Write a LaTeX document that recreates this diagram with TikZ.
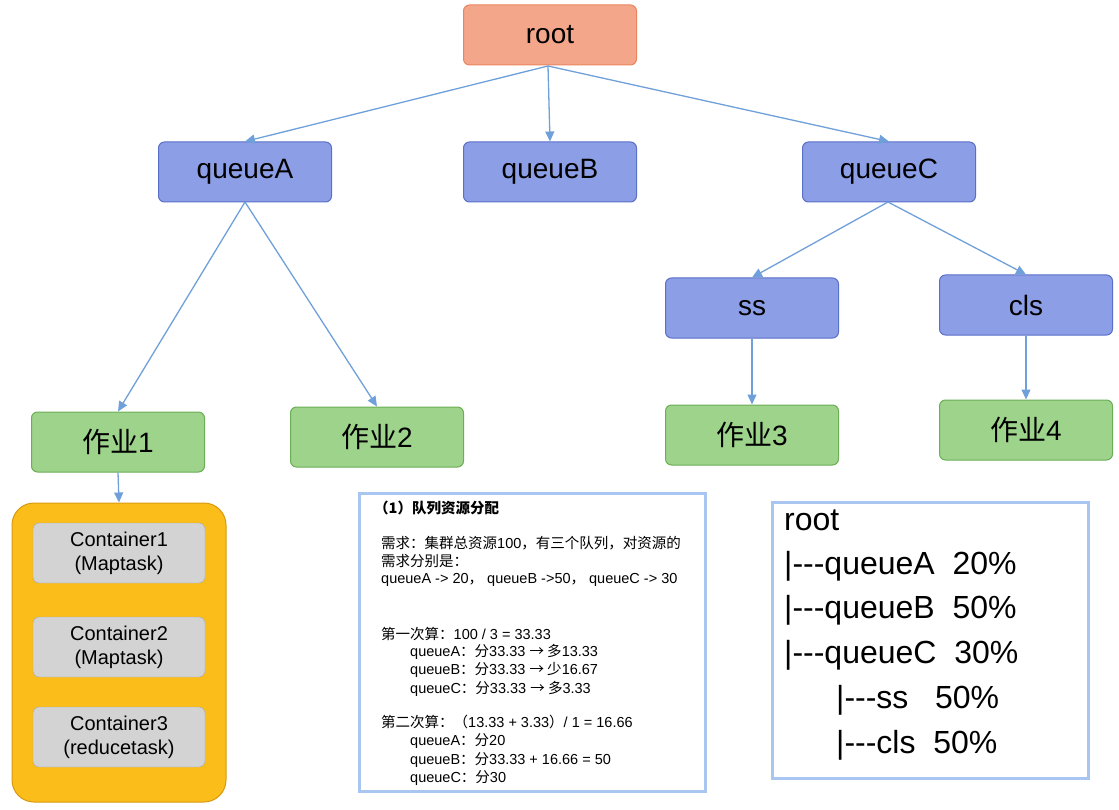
\documentclass[tikz,border=0pt]{standalone}
\usepackage{fontspec}
\setmainfont{Liberation Sans}
\newfontfamily\cjk{Noto Sans CJK SC}
\newcommand{\zh}[1]{{\cjk #1}}
\newcommand{\dsh}{-{}-{}-}
\usetikzlibrary{arrows.meta}
\definecolor{bluef}{HTML}{8C9EE6}
\definecolor{blued}{HTML}{5A6FC8}
\definecolor{greenf}{HTML}{9DD38A}
\definecolor{greend}{HTML}{6BAE55}
\definecolor{rootf}{HTML}{F4A68A}
\definecolor{rootd}{HTML}{E8855E}
\definecolor{edge}{HTML}{6FA0DA}
\definecolor{orangef}{HTML}{FBBD1A}
\definecolor{oranged}{HTML}{D89A10}
\definecolor{grayf}{HTML}{D3D3D3}
\definecolor{grayd}{HTML}{A8A8A8}
\definecolor{glow}{HTML}{A9C6F0}
\begin{document}
\begin{tikzpicture}[x=1pt,y=-1pt,
  box/.style={rounded corners=6pt,minimum width=173pt,minimum height=60pt,inner sep=0pt,font=\fontsize{28}{30}\selectfont},
  blue/.style={box,fill=bluef,draw=blued,line width=1pt},
  green/.style={box,fill=greenf,draw=greend,line width=1pt},
  cont/.style={rounded corners=6pt,minimum width=172pt,minimum height=60pt,inner sep=0pt,fill=grayf,draw=grayd,align=center,font=\fontsize{20}{24}\selectfont},
  edg/.style={draw=edge,line width=1.3pt,-{Triangle[length=10pt,width=9pt]}},
  txt/.style={anchor=west,inner sep=0pt}]
\useasboundingbox (0,0) rectangle (1119,810);
\node[box,fill=rootf,draw=rootd,line width=1pt] (root) at (550,35) {root};
\node[blue] (qa) at (245,172) {queueA};
\node[blue] (qb) at (550,172) {queueB};
\node[blue] (qc) at (889,172) {queueC};
\node[blue] (ss) at (752,308) {ss};
\node[blue] (cls) at (1026,305) {cls};
\node[green] (j1) at (118,442) {\zh{作业}1};
\node[green] (j2) at (377,437) {\zh{作业}2};
\node[green] (j3) at (752,435) {\zh{作业}3};
\node[green] (j4) at (1026,430) {\zh{作业}4};
\node[rounded corners=22pt,fill=orangef,draw=oranged,line width=1pt,minimum width=214pt,minimum height=299pt,inner sep=0pt] (orng) at (119,652.5) {};
\node[cont] (c1) at (119,553) {Container1\\(Maptask)};
\node[cont] (c2) at (119,647) {Container2\\(Maptask)};
\node[cont] (c3) at (119,737) {Container3\\(reducetask)};
\coordinate (rb) at (548,66);
\draw[edg] (rb) -- (qa.north);
\draw[edg] (rb) -- (qb.north);
\draw[edg] (rb) -- (qc.north);
\coordinate (qab) at (245,202);
\draw[edg] (qab) -- (j1.north);
\draw[edg] (qab) -- (j2.north);
\coordinate (qcb) at (888,202);
\draw[edg] (qcb) -- (ss.north);
\draw[edg] (qcb) -- (cls.north);
\draw[edg] (ss.south) -- (j3.north);
\draw[edg] (cls.south) -- (j4.north);
\draw[edg] (j1.south) -- (orng.north);
% box 1
\node[draw=glow,line width=3pt,fill=white,minimum width=346pt,minimum height=298pt,inner sep=0pt] (b1) at (532,642) {};
\begin{scope}[every node/.style={txt,font=\fontsize{14.5}{16}\selectfont}]
\node (t0) at (374,508) {\bfseries\zh{（1）队列资源分配}};
\node (t1) at (381,543) {\zh{需求：集群总资源}100\zh{，有三个队列，对资源的}};
\node (t2) at (381,561) {\zh{需求分别是：}};
\node (t3) at (381,580) {queueA -> 20\zh{，} queueB ->50\zh{，} queueC -> 30};
\node (t4) at (381,634) {\zh{第一次算：}100 / 3 = 33.33};
\node (t5) at (410,652) {queueA\zh{：分}33.33 \zh{→ 多}13.33};
\node (t6) at (410,670) {queueB\zh{：分}33.33 \zh{→ 少}16.67};
\node (t7) at (410,689) {queueC\zh{：分}33.33 \zh{→ 多}3.33};
\node (t8) at (381,722) {\zh{第二次算：（}13.33 + 3.33\zh{）}/ 1 = 16.66};
\node (t9) at (410,741) {queueA\zh{：分}20};
\node (t10) at (410,760) {queueB\zh{：分}33.33 + 16.66 = 50};
\node (t11) at (410,778) {queueC\zh{：分}30};
\end{scope}
% box 2
\node[draw=glow,line width=3pt,fill=white,minimum width=316pt,minimum height=276pt,inner sep=0pt] (b2) at (930,640) {};
\begin{scope}[every node/.style={txt,font=\fontsize{32}{34}\selectfont}]
\node (r0) at (784,520) {root};
\node (r1) at (784,566) {|\dsh queueA\ \ 20\%};
\node (r2) at (784,610) {|\dsh queueB\ \ 50\%};
\node (r3) at (784,655) {|\dsh queueC\ \ 30\%};
\node (r4) at (836,700) {|\dsh ss\ \ \ 50\%};
\node (r5) at (836,745) {|\dsh cls\ \ 50\%};
\end{scope}
\end{tikzpicture}
\end{document}
